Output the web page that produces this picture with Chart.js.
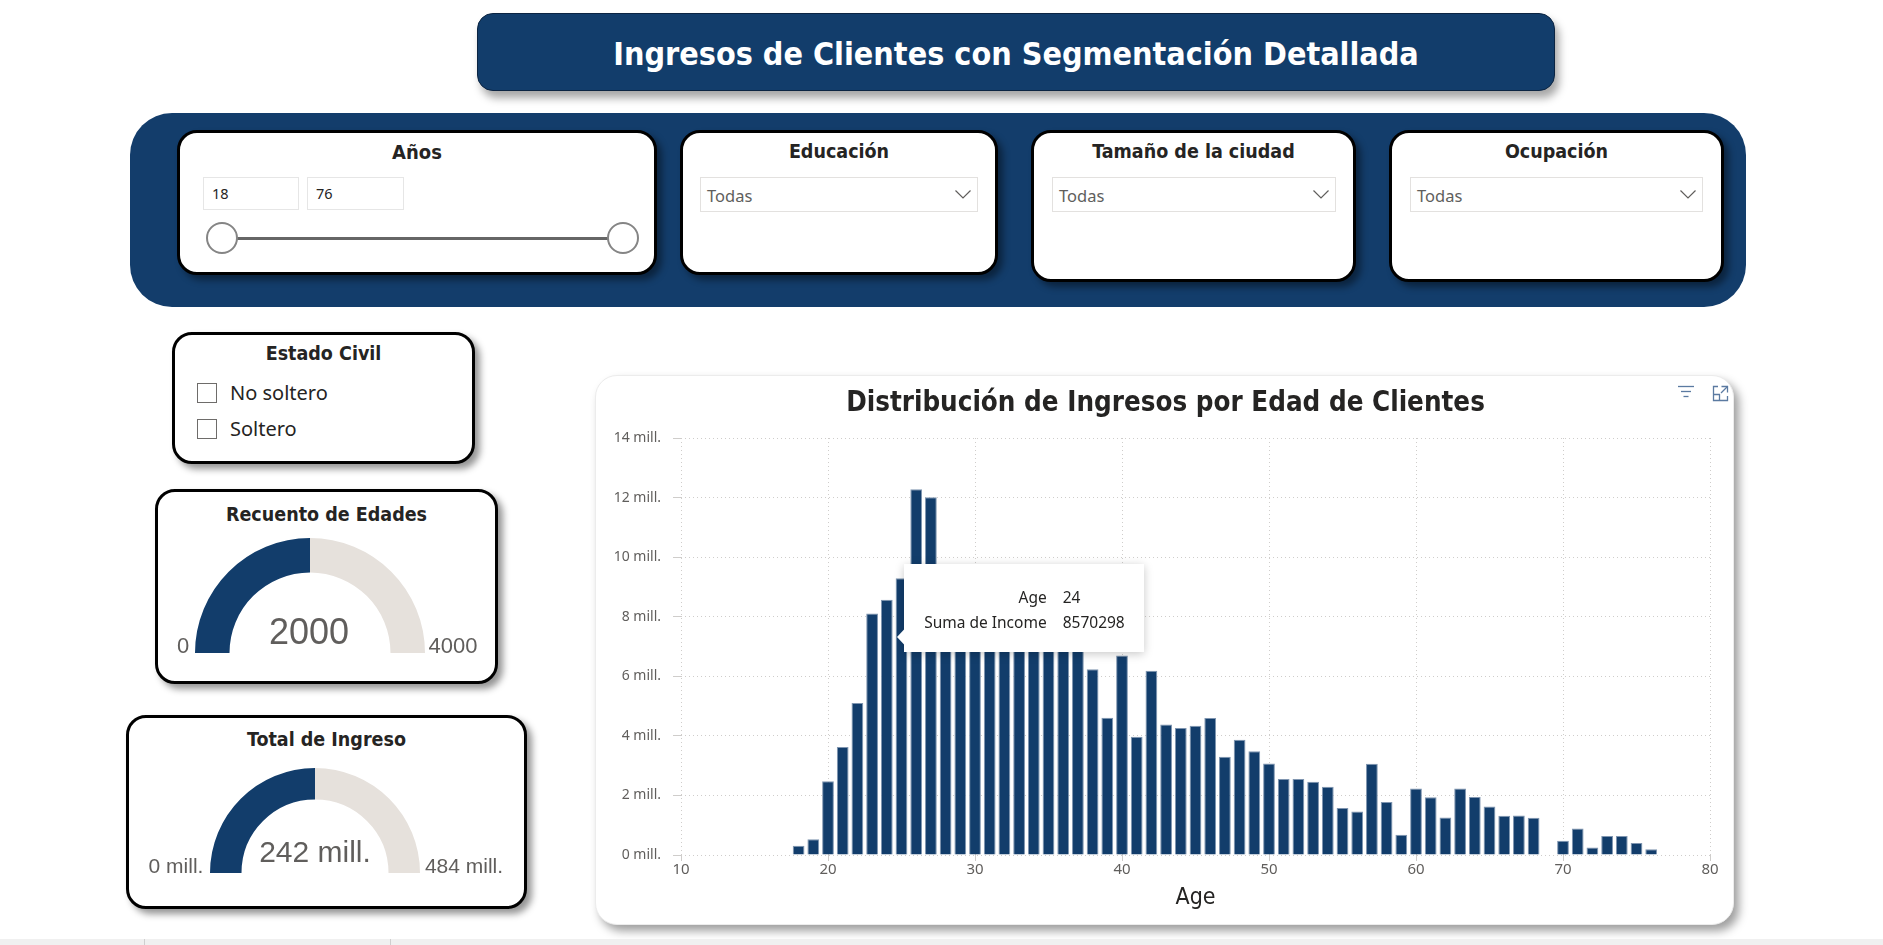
<!DOCTYPE html>
<html lang="es">
<head>
<meta charset="utf-8">
<script src="https://cdn.jsdelivr.net/npm/chart.js@4.4.1/dist/chart.umd.min.js"></script>
<style>
html,body{margin:0;padding:0;width:1883px;height:945px;overflow:hidden;background:#fff;font-family:'Noto Sans',sans-serif;color:#252423;}
.abs{position:absolute;box-sizing:border-box;}
.din{font-family:'DejaVu Sans Condensed','DejaVu Sans',sans-serif;font-stretch:condensed;}
.card{position:absolute;box-sizing:border-box;background:#fff;border:3px solid #000;border-radius:20px;box-shadow:5px 5px 7px rgba(0,0,0,0.42);}
.ctitle{position:absolute;left:0;right:0;text-align:center;font-weight:bold;font-size:19.5px;line-height:24px;color:#252423;}
.dd{position:absolute;box-sizing:border-box;border:1px solid #e3e1df;height:35px;font-size:16.5px;color:#605E5C;line-height:36px;padding-left:6px;}
.dd svg{position:absolute;right:6px;top:12px;}
.inp{position:absolute;box-sizing:border-box;border:1px solid #e6e6e6;height:33px;font-size:14.5px;line-height:31px;padding-left:8px;color:#252423;}
.cb{position:absolute;box-sizing:border-box;width:20px;height:20px;border:1.5px solid #6e6c6a;background:#fff;}
.cbl{position:absolute;font-size:20px;line-height:24px;color:#252423;}
.gnum{position:absolute;font-family:'Liberation Sans Narrow','Liberation Sans',sans-serif;color:#605E5C;white-space:nowrap;transform:translate(-50%,-50%);}
</style>
</head>
<body>
<div id="root" style="position:relative;width:1883px;height:945px;">

<!-- header -->
<div class="abs" style="left:477px;top:13px;width:1078px;height:78px;background:#123D6B;border:1.5px solid #0b2442;border-radius:16px;box-shadow:4px 7px 9px rgba(0,0,0,0.35);"></div>
<div class="abs din" id="mainTitle" style="left:477px;top:15px;width:1078px;height:78px;line-height:78px;text-align:center;color:#fff;font-weight:bold;font-size:32px;"></div>

<!-- filter band -->
<div class="abs" style="left:130px;top:113px;width:1616px;height:194px;background:#133D6B;border-radius:42px;"></div>

<div class="card" style="left:177px;top:130px;width:480px;height:145px;">
  <div class="ctitle din" style="top:7px;font-size:20px;">Años</div>
  <div class="inp" style="left:23px;top:44px;width:96px;" id="ageMin"></div>
  <div class="inp" style="left:127px;top:44px;width:97px;" id="ageMax"></div>
  <div class="abs" style="left:42px;top:104px;width:401px;height:3px;background:#666;"></div>
  <div class="abs" style="left:26px;top:89px;width:32px;height:32px;border-radius:50%;border:2px solid #858585;background:#fff;"></div>
  <div class="abs" style="left:427px;top:89px;width:32px;height:32px;border-radius:50%;border:2px solid #858585;background:#fff;"></div>
</div>

<div class="card" style="left:680px;top:130px;width:318px;height:145px;">
  <div class="ctitle din" style="top:7px;">Educación</div>
  <div class="dd" style="left:17px;top:44px;width:278px;">Todas<svg width="16" height="9"><polyline points="0.5,0.5 8,8 15.5,0.5" fill="none" stroke="#605E5C" stroke-width="1.2"/></svg></div>
</div>

<div class="card" style="left:1031px;top:130px;width:325px;height:152px;">
  <div class="ctitle din" style="top:7px;">Tamaño de la ciudad</div>
  <div class="dd" style="left:18px;top:44px;width:284px;">Todas<svg width="16" height="9"><polyline points="0.5,0.5 8,8 15.5,0.5" fill="none" stroke="#605E5C" stroke-width="1.2"/></svg></div>
</div>

<div class="card" style="left:1389px;top:130px;width:335px;height:152px;">
  <div class="ctitle din" style="top:7px;">Ocupación</div>
  <div class="dd" style="left:18px;top:44px;width:293px;">Todas<svg width="16" height="9"><polyline points="0.5,0.5 8,8 15.5,0.5" fill="none" stroke="#605E5C" stroke-width="1.2"/></svg></div>
</div>

<!-- Estado civil -->
<div class="card" style="left:172px;top:332px;width:303px;height:132px;">
  <div class="ctitle din" style="top:7px;">Estado Civil</div>
  <div class="cb" style="left:22px;top:48px;"></div>
  <div class="cbl" style="left:55px;top:46px;">No soltero</div>
  <div class="cb" style="left:22px;top:84px;"></div>
  <div class="cbl" style="left:55px;top:82px;">Soltero</div>
</div>

<!-- gauge cards -->
<div class="card" style="left:155px;top:489px;width:343px;height:195px;">
  <div class="ctitle din" style="top:11px;">Recuento de Edades</div>
</div>
<div class="abs" style="left:195px;top:538px;width:230px;height:115px;"><canvas id="g1"></canvas></div>
<div class="gnum" id="g1val" style="left:309px;top:632px;font-size:36px;"></div>
<div class="gnum" id="g1min" style="left:183px;top:646px;font-size:22px;"></div>
<div class="gnum" id="g1max" style="left:453px;top:646px;font-size:22px;"></div>

<div class="card" style="left:126px;top:715px;width:401px;height:194px;">
  <div class="ctitle din" style="top:10px;">Total de Ingreso</div>
</div>
<div class="abs" style="left:210px;top:768px;width:210px;height:105px;"><canvas id="g2"></canvas></div>
<div class="gnum" id="g2val" style="left:315px;top:852px;font-size:30px;"></div>
<div class="gnum" id="g2min" style="left:176px;top:866px;font-size:21px;"></div>
<div class="gnum" id="g2max" style="left:464px;top:866px;font-size:21px;"></div>

<!-- chart card -->
<div class="abs" id="chartCard" style="left:595px;top:375px;width:1139px;height:550px;background:#fff;border-radius:22px;box-shadow:5px 6px 10px rgba(0,0,0,0.38);border:1px solid #ececec;overflow:hidden;">
  <div class="abs" style="left:0;top:0;width:1139px;height:550px;"><canvas id="main"></canvas></div>
  <svg class="abs" style="left:1081px;top:9px;" width="18" height="14"><g stroke="#5b7aa1" stroke-width="1.3"><line x1="1" y1="1.5" x2="17" y2="1.5"/><line x1="4" y1="6.5" x2="14" y2="6.5"/><line x1="6.5" y1="11.5" x2="11.5" y2="11.5"/></g></svg>
  <svg class="abs" style="left:1116px;top:9px;" width="17" height="17"><g fill="none" stroke="#5b7aa1" stroke-width="1.3"><path d="M6 1.5 H1.5 V15.5 H15.5 V11"/><path d="M1.5 9.5 H7.5 V15.5"/><path d="M9.5 1.5 H15.5 V7.5"/><line x1="15.5" y1="1.5" x2="9" y2="8"/></g></svg>
</div>

<!-- tooltip -->
<div class="abs" id="tip" style="width:240px;height:88px;background:#fff;box-shadow:0 2px 9px rgba(0,0,0,0.22);display:none;">
  <svg class="abs" style="left:-7px;" id="tipCaret" width="8" height="16"><polygon points="7.5,0 0,8 7.5,16" fill="#fff"/></svg>
  <div class="abs" id="tipL1" style="right:97px;top:22px;font-size:15.5px;line-height:22px;text-align:right;"></div>
  <div class="abs" id="tipV1" style="left:159px;top:22px;font-size:15.5px;line-height:22px;"></div>
  <div class="abs" id="tipL2" style="right:97px;top:47px;font-size:15.5px;line-height:22px;text-align:right;white-space:nowrap;"></div>
  <div class="abs" id="tipV2" style="left:159px;top:47px;font-size:15.5px;line-height:22px;"></div>
</div>

<!-- bottom strip -->
<div class="abs" style="left:0;top:939px;width:1883px;height:6px;background:#f0f0f0;"></div>
<div class="abs" style="left:144px;top:939px;width:1px;height:6px;background:#cfcfcf;"></div>
<div class="abs" style="left:390px;top:939px;width:1px;height:6px;background:#cfcfcf;"></div>
</div>

<script>
// ---------- data ----------
const pageTitle = 'Ingresos de Clientes con Segmentación Detallada';
const chartTitle = 'Distribución de Ingresos por Edad de Clientes';
const xAxisTitle = 'Age';
const seriesName = 'Suma de Income';

const ages = [18,19,20,21,22,23,24,25,26,27,28,29,30,31,32,33,34,35,36,37,38,39,40,41,42,43,44,45,46,47,48,49,50,51,52,53,54,55,56,57,58,59,60,61,62,63,64,65,66,67,68,70,71,72,73,74,75,76];
const incomes = [310000,530000,2480000,3630000,5100000,8110000,8570298,9290000,12280000,12010000,
  9400000,9000000,9300000,8800000,8500000,8200000,7900000,8300000,7500000,7200000,
  6240000,4610000,6700000,3970000,6190000,4380000,4260000,4340000,4600000,3300000,
  3870000,3480000,3070000,2550000,2550000,2460000,2290000,1580000,1460000,3060000,
  1780000,680000,2230000,1940000,1260000,2230000,1950000,1630000,1320000,1330000,
  1250000,480000,890000,250000,640000,640000,400000,190000];
const xTicks = [10,20,30,40,50,60,70,80];
const yTicks = [0,2000000,4000000,6000000,8000000,10000000,12000000,14000000];
const highlightedAge = 24;

const ageRange = [18, 76];
const countValue = 2000, countMax = 4000;
const incomeTotalMill = 242, incomeMaxMill = 484;

// ---------- static texts ----------
document.getElementById('mainTitle').textContent = pageTitle;
document.getElementById('ageMin').textContent = ageRange[0];
document.getElementById('ageMax').textContent = ageRange[1];
document.getElementById('g1val').textContent = countValue;
document.getElementById('g1min').textContent = 0;
document.getElementById('g1max').textContent = countMax;
document.getElementById('g2val').textContent = incomeTotalMill + ' mill.';
document.getElementById('g2min').textContent = '0 mill.';
document.getElementById('g2max').textContent = incomeMaxMill + ' mill.';

Chart.defaults.font.family = "'Noto Sans', sans-serif";
const NAVY = '#123D6B';
const REST = '#E6E1DC';
const DIN = "'DejaVu Sans Condensed', 'DejaVu Sans', sans-serif";

function gauge(id, value, max, radius) {
  new Chart(document.getElementById(id), {
    type: 'doughnut',
    data: { labels: ['valor', 'resto'], datasets: [{ data: [value, max - value], backgroundColor: [NAVY, REST], borderWidth: 0 }] },
    options: {
      responsive: true, maintainAspectRatio: false, animation: false, events: [],
      rotation: -90, circumference: 180, cutout: '70%', radius: radius,
      layout: { padding: 0 },
      plugins: { legend: { display: false }, tooltip: { enabled: false } }
    }
  });
}
gauge('g1', countValue, countMax, 115);
gauge('g2', incomeTotalMill, incomeMaxMill, 105);

// tooltip positioned from the highlighted bar element
const tipPlugin = {
  id: 'tipPlugin',
  afterDraw(chart) {
    const idx = ages.indexOf(highlightedAge);
    const el = chart.getDatasetMeta(0).data[idx];
    if (!el) return;
    const card = document.getElementById('chartCard');
    const baseX = card.offsetLeft + 1, baseY = card.offsetTop + 1;
    const tipX = baseX + el.x + el.width / 2 + 4;
    const tipY = baseY + el.y + 37;
    const tip = document.getElementById('tip');
    tip.style.left = (tipX + 7) + 'px';
    tip.style.top = (tipY - 73) + 'px';
    document.getElementById('tipCaret').style.top = (73 - 8) + 'px';
    document.getElementById('tipL1').textContent = xAxisTitle;
    document.getElementById('tipV1').textContent = ages[idx];
    document.getElementById('tipL2').textContent = seriesName;
    document.getElementById('tipV2').textContent = incomes[idx];
    tip.style.display = 'block';
  }
};

const gridCommon = { color: '#cfcdcb', lineWidth: 1, drawTicks: true };

new Chart(document.getElementById('main'), {
  type: 'bar',
  data: {
    datasets: [{
      label: seriesName,
      data: ages.map((a, i) => ({ x: a, y: incomes[i] })),
      backgroundColor: NAVY,
      borderColor: '#7f95b0',
      borderWidth: { top: 1, left: 1, right: 1, bottom: 0 },
      barPercentage: 0.8,
      categoryPercentage: 1,
      yAxisID: 'y'
    }]
  },
  options: {
    responsive: true, maintainAspectRatio: false, animation: false, events: [],
    layout: { padding: 0 },
    plugins: {
      legend: { display: false },
      tooltip: { enabled: false },
      title: {
        display: true, text: chartTitle, color: '#252423',
        font: { family: DIN, size: 27.5, weight: 'bold', lineHeight: 1.2 },
        padding: { top: 11.5, bottom: 17.5 }
      }
    },
    scales: {
      x: {
        type: 'linear', min: 10, max: 80, offset: false,
        grid: Object.assign({ offset: false, tickLength: 6 }, gridCommon),
        border: { display: false, dash: [1, 3] },
        afterBuildTicks: s => { s.ticks = xTicks.map(v => ({ value: v })); },
        afterFit: s => { s.height = 71; },
        ticks: { color: '#605E5C', font: { size: 15 }, padding: 0, maxRotation: 0 },
        title: { display: true, text: xAxisTitle, color: '#252423', font: { family: DIN, size: 23, lineHeight: 1.2 }, padding: { top: 0, bottom: 14 } }
      },
      y: {
        min: 0, max: 14000000,
        grid: Object.assign({ tickLength: 8 }, gridCommon),
        border: { display: false, dash: [1, 3] },
        afterBuildTicks: s => { s.ticks = yTicks.map(v => ({ value: v })); },
        afterFit: s => { s.width = 85; },
        ticks: { color: '#605E5C', font: { size: 14 }, padding: 12, callback: v => (v / 1000000) + ' mill.' }
      },
      yRight: {
        position: 'right', min: 0, max: 14000000,
        grid: { drawOnChartArea: false, drawTicks: false },
        border: { display: false },
        ticks: { display: false },
        afterFit: s => { s.width = 25; }
      }
    }
  },
  plugins: [tipPlugin]
});
</script>
</body>
</html>
